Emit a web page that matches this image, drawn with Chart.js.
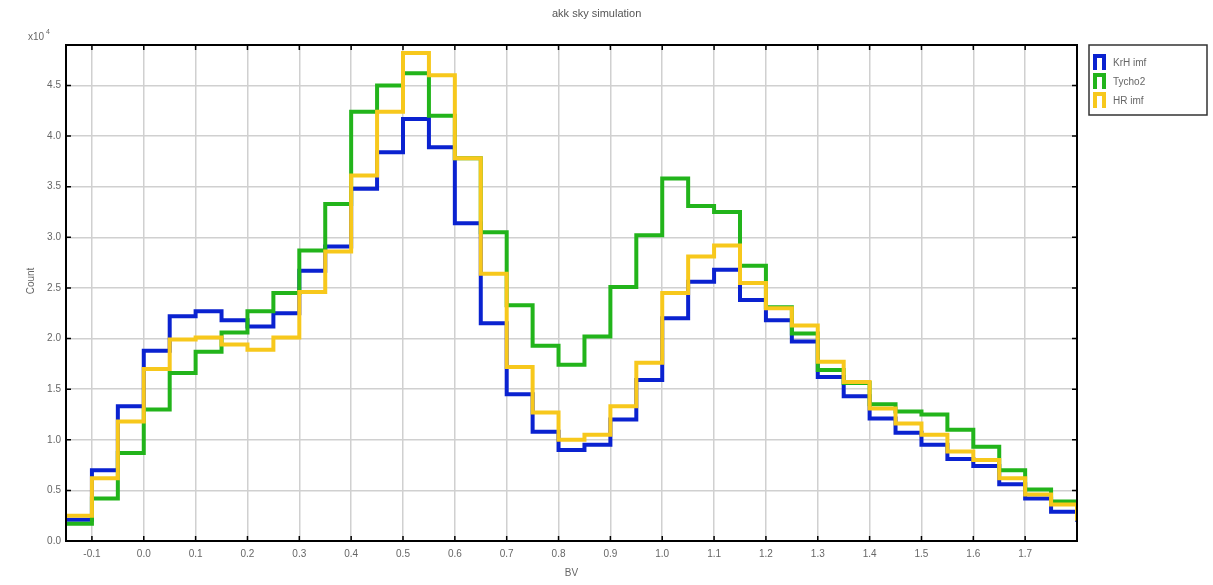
<!DOCTYPE html>
<html><head><meta charset="utf-8">
<script src="https://cdn.jsdelivr.net/npm/chart.js@4.4.1/dist/chart.umd.min.js"></script>
<style>html,body{margin:0;padding:0;background:#fff;}canvas{display:block}</style>
</head><body>
<canvas id="c" width="1213" height="585"></canvas>
<script>
// ---- data (counts) ----
const bvEdges = [-0.15,-0.10,-0.05,0.00,0.05,0.10,0.15,0.20,0.25,0.30,0.35,0.40,0.45,0.50,0.55,0.60,0.65,0.70,0.75,0.80,
                 0.85,0.90,0.95,1.00,1.05,1.10,1.15,1.20,1.25,1.30,1.35,1.40,1.45,1.50,1.55,1.60,1.65,1.70,1.75,1.80];
const krhImf = [2100,7000,13300,18800,22200,22700,21800,21200,22500,26700,29100,34800,38400,41700,38900,31400,21500,14500,10800,9000,
                9500,12000,15900,22000,25600,26800,23800,21800,19700,16200,14300,12100,10700,9500,8100,7400,5600,4200,2900,1900];
const tycho2 = [1700,4200,8700,13000,16600,18700,20600,22700,24500,28700,33300,42400,45000,46200,42000,37800,30500,23300,19300,17400,
                20200,25100,30200,35800,33100,32500,27200,23100,20500,16900,15600,13500,12800,12500,11000,9300,7000,5100,3900,2200];
const hrImf  = [2500,6200,11800,17000,19900,20100,19400,18900,20100,24600,28600,36100,42400,48200,46000,37800,26400,17200,12700,10000,
                10500,13300,17600,24500,28100,29200,25500,23000,21300,17700,15700,13100,11600,10500,8850,8000,6200,4600,3600,2000];
const seriesNames = ['KrH imf','Tycho2','HR imf'];
const xTickValues = [-0.1,0.0,0.1,0.2,0.3,0.4,0.5,0.6,0.7,0.8,0.9,1.0,1.1,1.2,1.3,1.4,1.5,1.6,1.7];
const yTickValues = [0,5000,10000,15000,20000,25000,30000,35000,40000,45000];

// ---- styles ----
const colors = ['#0a22d0','#22b41b','#f7c81c'];
const FONT = '"Liberation Sans", Arial, sans-serif';
const TXT = '#666';

const seriesData = [krhImf, tycho2, hrImf];
const datasets = seriesData.map((arr, k) => ({
  label: seriesNames[k],
  data: bvEdges.map((x, i) => ({x: x, y: arr[i]})),
  stepped: 'before',
  borderColor: colors[k],
  backgroundColor: colors[k],
  borderWidth: 4,
  pointRadius: 0,
  fill: false,
  order: 2 - k,
  borderJoinStyle: 'miter'
}));

const framePlugin = {
  id: 'frame',
  afterDraw(chart) {
    const {ctx, chartArea: a, scales} = chart;
    ctx.save();
    ctx.strokeStyle = '#000';
    ctx.lineWidth = 2;
    ctx.strokeRect(a.left, a.top, a.right - a.left, a.bottom - a.top);
    ctx.lineWidth = 1.5;
    ctx.beginPath();
    xTickValues.forEach(v => {
      const px = scales.x.getPixelForValue(v);
      ctx.moveTo(px, a.bottom); ctx.lineTo(px, a.bottom - 5);
      ctx.moveTo(px, a.top); ctx.lineTo(px, a.top + 5);
    });
    yTickValues.forEach(v => {
      const py = scales.y.getPixelForValue(v);
      ctx.moveTo(a.left, py); ctx.lineTo(a.left + 5, py);
      ctx.moveTo(a.right, py); ctx.lineTo(a.right - 5, py);
    });
    ctx.stroke();

    // title
    ctx.fillStyle = '#555';
    ctx.font = '11px ' + FONT;
    ctx.textAlign = 'left';
    ctx.textBaseline = 'middle';
    ctx.fillText('akk sky simulation', 552, 14);

    // y axis title
    ctx.save();
    ctx.translate(31, 281);
    ctx.rotate(-Math.PI / 2);
    ctx.textAlign = 'center';
    ctx.font = '10px ' + FONT;
    ctx.fillStyle = TXT;
    ctx.fillText('Count', 0, 0);
    ctx.restore();

    // exponent label
    ctx.font = '10px ' + FONT;
    ctx.fillStyle = TXT;
    ctx.textAlign = 'left';
    ctx.fillText('x10', 28, 37);
    ctx.font = '7px ' + FONT;
    ctx.fillText('4', 46, 32);

    // legend
    const lx = 1089, ly = 45, lw = 118, lh = 70;
    ctx.fillStyle = '#fff';
    ctx.fillRect(lx, ly, lw, lh);
    ctx.strokeStyle = '#333';
    ctx.lineWidth = 1.5;
    ctx.strokeRect(lx, ly, lw, lh);
    const rows = [62, 81, 100];
    seriesNames.forEach((name, k) => {
      const cy = rows[k];
      ctx.strokeStyle = colors[k];
      ctx.lineWidth = 4;
      ctx.lineJoin = 'miter';
      ctx.beginPath();
      ctx.moveTo(1095, cy + 8);
      ctx.lineTo(1095, cy - 6);
      ctx.lineTo(1104, cy - 6);
      ctx.lineTo(1104, cy + 8);
      ctx.stroke();
      ctx.fillStyle = TXT;
      ctx.font = '10px ' + FONT;
      ctx.textAlign = 'left';
      ctx.textBaseline = 'middle';
      ctx.fillText(name, 1113, cy + 1);
    });
    ctx.restore();
  }
};

new Chart(document.getElementById('c'), {
  type: 'line',
  data: {datasets},
  options: {
    responsive: false,
    animation: false,
    devicePixelRatio: 1,
    layout: {padding: {left: 0, right: 136, top: 45, bottom: 0}},
    plugins: {legend: {display: false}, title: {display: false}, tooltip: {enabled: false}},
    scales: {
      x: {
        type: 'linear', min: -0.15, max: 1.8,
        afterBuildTicks: s => { s.ticks = xTickValues.map(v => ({value: v})); },
        afterFit: s => { s.height = 44; },
        ticks: {callback: v => Number(v).toFixed(1), font: {size: 10, family: FONT}, color: TXT, padding: 7, maxRotation: 0, autoSkip: false},
        grid: {color: '#d0d0d0', lineWidth: 1.5, drawTicks: false},
        border: {display: false},
        title: {display: true, text: 'BV', font: {size: 10, family: FONT}, color: TXT, padding: {top: 0, bottom: 6}}
      },
      y: {
        min: 0, max: 49000,
        afterBuildTicks: s => { s.ticks = yTickValues.map(v => ({value: v})); },
        afterFit: s => { s.width = 66; },
        ticks: {callback: v => (v / 10000).toFixed(1), font: {size: 10, family: FONT}, color: TXT, padding: 5},
        grid: {color: '#d0d0d0', lineWidth: 1.5, drawTicks: false},
        border: {display: false},
        title: {display: false}
      }
    }
  },
  plugins: [framePlugin]
});
</script>
</body></html>
